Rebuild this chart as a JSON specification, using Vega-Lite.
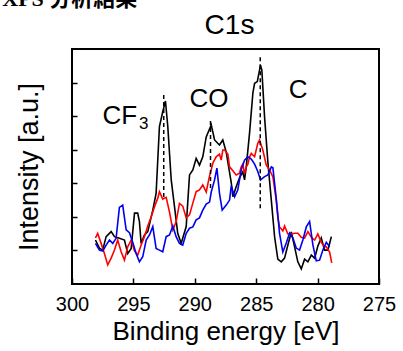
{
  "$schema": "https://vega.github.io/schema/vega-lite/v6.json",
  "width": 307,
  "height": 235,
  "autosize": "none",
  "padding": {"left": 72, "top": 49, "right": 24, "bottom": 67},
  "background": "white",
  "config": {
    "font": "Liberation Sans",
    "view": {"stroke": "black", "strokeWidth": 2}
  },
  "title": {"text": "XPS 分析結果", "font": "Liberation Serif, Noto Sans CJK JP", "fontSize": 22, "fontWeight": "bold", "color": "black", "anchor": "start", "frame": "bounds", "offset": 0, "dx": -13},
  "datasets": {
    "black": [
      {"e":298.09,"i":1.31},{"e":297.77,"i":1.07},{"e":297.50,"i":1.01},{"e":297.22,"i":1.41},{"e":296.81,"i":1.56},{"e":296.54,"i":1.41},{"e":296.14,"i":1.36},{"e":295.73,"i":1.31},{"e":295.46,"i":0.91},{"e":295.18,"i":1.06},{"e":294.91,"i":2.11},{"e":294.65,"i":2.11},{"e":294.51,"i":1.86},{"e":294.37,"i":1.21},{"e":294.10,"i":1.46},{"e":293.83,"i":1.56},{"e":293.42,"i":2.20},{"e":293.15,"i":2.70},{"e":292.88,"i":4.69},{"e":292.61,"i":5.13},{"e":292.39,"i":5.45},{"e":292.20,"i":4.69},{"e":291.92,"i":3.10},{"e":291.65,"i":2.30},{"e":291.39,"i":1.51},{"e":291.11,"i":1.21},{"e":290.70,"i":1.71},{"e":290.43,"i":3.25},{"e":290.16,"i":3.40},{"e":289.89,"i":3.74},{"e":289.62,"i":3.54},{"e":289.35,"i":3.79},{"e":289.07,"i":4.38},{"e":288.66,"i":4.74},{"e":288.39,"i":4.29},{"e":287.99,"i":4.14},{"e":287.72,"i":4.29},{"e":287.44,"i":3.93},{"e":287.03,"i":3.01},{"e":286.90,"i":2.60},{"e":286.63,"i":2.90},{"e":286.36,"i":3.16},{"e":286.09,"i":3.34},{"e":285.95,"i":3.10},{"e":285.81,"i":3.49},{"e":285.54,"i":4.50},{"e":285.27,"i":5.69},{"e":285.13,"i":5.98},{"e":284.91,"i":6.03},{"e":284.65,"i":6.52},{"e":284.54,"i":6.37},{"e":284.32,"i":4.98},{"e":284.05,"i":3.63},{"e":283.77,"i":2.50},{"e":283.50,"i":1.40},{"e":283.24,"i":0.74},{"e":282.96,"i":0.66},{"e":282.69,"i":0.77},{"e":282.42,"i":1.16},{"e":282.14,"i":1.55},{"e":281.87,"i":1.10},{"e":281.61,"i":0.66},{"e":281.33,"i":0.45},{"e":281.06,"i":0.74},{"e":280.79,"i":0.66},{"e":280.51,"i":0.86},{"e":280.24,"i":0.77},{"e":279.98,"i":1.13},{"e":279.70,"i":1.37},{"e":279.43,"i":1.01},{"e":279.16,"i":1.01},{"e":278.88,"i":1.41}
    ],
    "red": [
      {"e":298.09,"i":1.37},{"e":297.91,"i":1.51},{"e":297.63,"i":1.21},{"e":297.36,"i":0.91},{"e":297.09,"i":0.57},{"e":296.81,"i":0.77},{"e":296.54,"i":1.01},{"e":296.28,"i":1.31},{"e":296.00,"i":0.96},{"e":295.73,"i":0.71},{"e":295.46,"i":1.11},{"e":295.18,"i":1.31},{"e":294.91,"i":0.99},{"e":294.65,"i":0.86},{"e":294.37,"i":1.16},{"e":294.10,"i":1.41},{"e":293.83,"i":1.73},{"e":293.55,"i":2.00},{"e":293.28,"i":2.30},{"e":293.02,"i":2.55},{"e":292.88,"i":2.75},{"e":292.61,"i":2.53},{"e":292.33,"i":2.58},{"e":292.06,"i":2.14},{"e":291.79,"i":1.61},{"e":291.52,"i":1.85},{"e":291.25,"i":2.40},{"e":290.98,"i":2.32},{"e":290.70,"i":1.97},{"e":290.43,"i":2.06},{"e":290.16,"i":2.41},{"e":289.89,"i":2.75},{"e":289.62,"i":2.80},{"e":289.35,"i":2.95},{"e":289.07,"i":2.74},{"e":288.80,"i":3.22},{"e":288.66,"i":3.40},{"e":288.53,"i":3.60},{"e":288.26,"i":3.79},{"e":287.99,"i":3.87},{"e":287.85,"i":3.69},{"e":287.72,"i":3.99},{"e":287.58,"i":3.99},{"e":287.31,"i":3.87},{"e":287.17,"i":3.49},{"e":286.90,"i":3.37},{"e":286.63,"i":3.25},{"e":286.36,"i":3.30},{"e":286.22,"i":3.49},{"e":286.09,"i":3.57},{"e":285.95,"i":3.28},{"e":285.81,"i":3.49},{"e":285.68,"i":3.57},{"e":285.54,"i":3.78},{"e":285.40,"i":3.89},{"e":285.13,"i":3.79},{"e":284.87,"i":4.19},{"e":284.73,"i":4.29},{"e":284.46,"i":3.99},{"e":284.18,"i":3.54},{"e":283.91,"i":3.40},{"e":283.64,"i":3.19},{"e":283.37,"i":2.50},{"e":283.24,"i":2.00},{"e":283.10,"i":1.70},{"e":282.83,"i":1.58},{"e":282.69,"i":1.73},{"e":282.42,"i":1.49},{"e":282.14,"i":1.49},{"e":281.87,"i":1.51},{"e":281.61,"i":1.51},{"e":281.33,"i":1.39},{"e":281.06,"i":1.37},{"e":280.79,"i":1.56},{"e":280.51,"i":1.39},{"e":280.24,"i":1.31},{"e":279.98,"i":1.49},{"e":279.70,"i":1.24},{"e":279.43,"i":1.11},{"e":279.29,"i":1.11},{"e":279.02,"i":0.95},{"e":278.85,"i":0.63}
    ],
    "blue": [
      {"e":298.09,"i":1.21},{"e":297.77,"i":1.01},{"e":297.50,"i":0.98},{"e":297.22,"i":1.16},{"e":296.95,"i":1.31},{"e":296.68,"i":1.21},{"e":296.41,"i":1.36},{"e":296.14,"i":2.28},{"e":295.87,"i":2.35},{"e":295.59,"i":1.61},{"e":295.32,"i":1.53},{"e":295.05,"i":1.24},{"e":294.78,"i":0.91},{"e":294.51,"i":0.66},{"e":294.24,"i":0.81},{"e":293.96,"i":1.31},{"e":293.69,"i":1.46},{"e":293.42,"i":1.71},{"e":293.15,"i":1.06},{"e":292.88,"i":1.01},{"e":292.61,"i":0.96},{"e":292.33,"i":1.41},{"e":292.06,"i":1.46},{"e":291.79,"i":1.73},{"e":291.52,"i":1.41},{"e":291.25,"i":1.21},{"e":290.98,"i":1.16},{"e":290.70,"i":1.51},{"e":290.43,"i":1.66},{"e":290.16,"i":1.70},{"e":289.89,"i":1.91},{"e":289.62,"i":1.97},{"e":289.35,"i":2.20},{"e":289.07,"i":2.38},{"e":288.80,"i":2.44},{"e":288.66,"i":2.74},{"e":288.39,"i":3.10},{"e":288.20,"i":3.45},{"e":287.99,"i":2.70},{"e":287.77,"i":2.20},{"e":287.44,"i":2.35},{"e":287.17,"i":2.50},{"e":287.03,"i":2.92},{"e":286.76,"i":2.60},{"e":286.50,"i":2.80},{"e":286.22,"i":3.40},{"e":285.95,"i":3.69},{"e":285.68,"i":3.79},{"e":285.40,"i":3.72},{"e":285.13,"i":3.57},{"e":284.87,"i":3.35},{"e":284.65,"i":3.10},{"e":284.32,"i":3.20},{"e":284.05,"i":3.25},{"e":283.77,"i":3.49},{"e":283.64,"i":3.46},{"e":283.37,"i":2.56},{"e":283.10,"i":1.51},{"e":282.83,"i":0.95},{"e":282.55,"i":1.22},{"e":282.28,"i":1.52},{"e":282.01,"i":1.37},{"e":281.74,"i":1.07},{"e":281.47,"i":1.01},{"e":281.20,"i":1.31},{"e":280.92,"i":1.70},{"e":280.65,"i":1.86},{"e":280.38,"i":1.16},{"e":280.11,"i":0.69},{"e":279.84,"i":0.71},{"e":279.57,"i":1.01},{"e":279.29,"i":1.24},{"e":279.02,"i":1.11}
    ],
    "peaks": [
      {"e":292.53,"lo":2.59,"hi":5.72},
      {"e":288.72,"lo":2.86,"hi":4.94},
      {"e":284.67,"lo":2.26,"hi":6.82}
    ],
    "labels": [
      {"t":"CF","e":297.52,"i":4.77},
      {"t":"CO","e":290.43,"i":5.28},
      {"t":"C","e":282.34,"i":5.53}
    ],
    "subs": [
      {"t":"3","e":294.55,"i":4.63}
    ]
  },
  "resolve": {"axis": {"x": "independent"}},
  "layer": [
    {
      "data": {"name": "black"},
      "mark": {"type": "line", "color": "#000000", "strokeWidth": 1.6},
      "encoding": {
        "x": {"field": "e", "type": "quantitative",
          "scale": {"domain": [275, 300], "reverse": true, "nice": false, "zero": false},
          "axis": {"orient": "bottom", "values": [300, 295, 290, 285, 280, 275], "format": "d", "grid": false, "domain": false,
            "tickSize": -6, "tickWidth": 1.5, "tickColor": "black", "labelFontSize": 20, "labelColor": "black", "labelPadding": 16,
            "labelOverlap": false, "labelFlush": false, "labelBound": false,
            "title": "Binding energy [eV]", "titleFontSize": 26, "titleFontWeight": "normal", "titleColor": "black", "titlePadding": 4}},
        "y": {"field": "i", "type": "quantitative",
          "scale": {"domain": [0, 7], "nice": false, "zero": false},
          "axis": {"values": [1, 2, 3, 4, 5, 6], "labels": false, "grid": false, "domain": false,
            "tickSize": -5, "tickWidth": 1.5, "tickColor": "black",
            "title": "Intensity [a.u.]", "titleFontSize": 27, "titleFontWeight": "normal", "titleColor": "black", "titlePadding": 28}}
      }
    },
    {
      "data": {"name": "red"},
      "mark": {"type": "line", "color": "#ff0000", "strokeWidth": 1.6},
      "encoding": {
        "x": {"field": "e", "type": "quantitative", "axis": null},
        "y": {"field": "i", "type": "quantitative"}
      }
    },
    {
      "data": {"name": "blue"},
      "mark": {"type": "line", "color": "#0000ee", "strokeWidth": 1.6},
      "encoding": {
        "x": {"field": "e", "type": "quantitative", "axis": null},
        "y": {"field": "i", "type": "quantitative"}
      }
    },
    {
      "data": {"name": "peaks"},
      "mark": {"type": "rule", "color": "black", "strokeWidth": 1.5, "strokeDash": [4, 3]},
      "encoding": {
        "x": {"field": "e", "type": "quantitative",
          "axis": {"orient": "top", "domain": false, "ticks": false, "labels": false, "grid": false,
            "title": "C1s", "titleX": 157, "titleY": -16, "titleAlign": "center", "titleBaseline": "alphabetic", "titleAngle": 0,
            "titleFontSize": 28, "titleFontWeight": "normal", "titleColor": "black"}},
        "y": {"field": "lo", "type": "quantitative"},
        "y2": {"field": "hi"}
      }
    },
    {
      "data": {"name": "labels"},
      "mark": {"type": "text", "align": "left", "baseline": "alphabetic", "fontSize": 26, "color": "black"},
      "encoding": {
        "x": {"field": "e", "type": "quantitative", "axis": null},
        "y": {"field": "i", "type": "quantitative"},
        "text": {"field": "t"}
      }
    },
    {
      "data": {"name": "subs"},
      "mark": {"type": "text", "align": "left", "baseline": "alphabetic", "fontSize": 17, "color": "black"},
      "encoding": {
        "x": {"field": "e", "type": "quantitative", "axis": null},
        "y": {"field": "i", "type": "quantitative"},
        "text": {"field": "t"}
      }
    }
  ]
}
